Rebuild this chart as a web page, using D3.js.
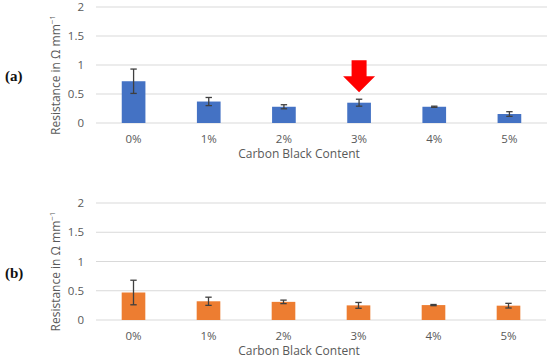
<!DOCTYPE html>
<html>
<head>
<meta charset="utf-8">
<script src="https://cdn.jsdelivr.net/npm/d3@7"></script>
<style>
  html, body { margin: 0; padding: 0; background: #fff; }
  svg { display: block; }
  text { font-family: "Open Sans", "Liberation Sans", sans-serif; }
  text.panel-label { font-family: "Liberation Serif", "DejaVu Serif", serif; }
</style>
</head>
<body>
<svg id="chart" width="550" height="359"></svg>
<script>
// ---- data ----
const categories = ["0%", "1%", "2%", "3%", "4%", "5%"];
const valuesA = [0.72, 0.37, 0.28, 0.35, 0.28, 0.155];
const errorsA = [0.21, 0.07, 0.035, 0.06, 0.01, 0.04];
const valuesB = [0.47, 0.32, 0.31, 0.25, 0.255, 0.245];
const errorsB = [0.21, 0.07, 0.03, 0.05, 0.01, 0.04];
const yTicks = [0, 0.5, 1, 1.5, 2];
const highlightCategory = "3%";
const xTitle = "Carbon Black Content";
const panelLabels = ["(a)", "(b)"];

const svg = d3.select("#chart");
const textColor = "#595959";

function drawPanel(cfg) {
  const { values, errors, color, top, bottom, left, right, label, arrow } = cfg;
  const g = svg.append("g");
  const x = d3.scaleBand().domain(categories).range([left, right])
    .paddingInner(0.685).paddingOuter(0.3425);
  const y = d3.scaleLinear().domain([0, 2]).range([bottom, top]);

  // gridlines
  g.selectAll(".grid").data(yTicks).join("line")
    .attr("x1", left).attr("x2", right)
    .attr("y1", d => y(d)).attr("y2", d => y(d))
    .attr("stroke", "#d9d9d9").attr("stroke-width", 1);

  // y tick labels
  g.selectAll(".ytick").data(yTicks).join("text")
    .attr("x", left - 12).attr("y", d => y(d) + 4)
    .attr("text-anchor", "end")
    .attr("font-size", 11.5).attr("fill", textColor)
    .text(d => d3.format("")(d));

  // bars
  const data = categories.map((c, i) => ({ c, v: values[i], e: errors[i] }));
  g.selectAll(".bar").data(data).join("rect")
    .attr("x", d => x(d.c)).attr("width", x.bandwidth())
    .attr("y", d => y(d.v)).attr("height", d => y(0) - y(d.v))
    .attr("fill", color);

  // error bars
  const cap = 3.2;
  const eb = g.selectAll(".eb").data(data).join("g")
    .attr("stroke", "#3f3f3f").attr("stroke-width", 1.3).attr("fill", "none");
  eb.append("line")
    .attr("x1", d => x(d.c) + x.bandwidth() / 2).attr("x2", d => x(d.c) + x.bandwidth() / 2)
    .attr("y1", d => y(d.v + d.e)).attr("y2", d => y(d.v - d.e));
  eb.append("line")
    .attr("x1", d => x(d.c) + x.bandwidth() / 2 - cap).attr("x2", d => x(d.c) + x.bandwidth() / 2 + cap)
    .attr("y1", d => y(d.v + d.e)).attr("y2", d => y(d.v + d.e));
  eb.append("line")
    .attr("x1", d => x(d.c) + x.bandwidth() / 2 - cap).attr("x2", d => x(d.c) + x.bandwidth() / 2 + cap)
    .attr("y1", d => y(d.v - d.e)).attr("y2", d => y(d.v - d.e));

  // x tick labels
  g.selectAll(".xtick").data(categories).join("text")
    .attr("x", d => x(d) + x.bandwidth() / 2).attr("y", bottom + 20)
    .attr("text-anchor", "middle")
    .attr("font-size", 11.5).attr("fill", textColor)
    .text(d => d);

  // x title
  g.append("text")
    .attr("x", 299).attr("y", bottom + 35)
    .attr("text-anchor", "middle")
    .attr("font-size", 12).attr("fill", textColor)
    .text(xTitle);

  // y title
  const yc = (top + bottom) / 2 + 10;
  const yt = g.append("text")
    .attr("transform", `translate(60,${yc}) rotate(-90)`)
    .attr("text-anchor", "middle")
    .attr("font-size", 12).attr("fill", textColor);
  yt.append("tspan").text("Resistance in Ω mm");
  yt.append("tspan").attr("font-size", 8).attr("dy", -5).text("−1");

  // panel label
  g.append("text").attr("class", "panel-label")
    .attr("x", 5).attr("y", (top + bottom) / 2 + 16)
    .attr("font-weight", "bold").attr("font-size", 15).attr("fill", "#111")
    .text(label);

  // highlight arrow
  if (arrow) {
    const i = categories.indexOf(highlightCategory);
    const cx = x(highlightCategory) + x.bandwidth() / 2;
    const tip = y(values[i] + errors[i]) - 7;
    const headTop = tip - 16, shaftTop = tip - 32;
    const pts = [
      [cx - 7.5, shaftTop], [cx + 7.5, shaftTop], [cx + 7.5, headTop],
      [cx + 16, headTop], [cx, tip], [cx - 16, headTop], [cx - 7.5, headTop]
    ];
    g.append("polygon").attr("points", pts.map(p => p.join(",")).join(" "))
      .attr("fill", "#ff0000");
  }
}

drawPanel({ values: valuesA, errors: errorsA, color: "#4472c4",
  top: 7, bottom: 123, left: 96, right: 547, label: panelLabels[0], arrow: true });
drawPanel({ values: valuesB, errors: errorsB, color: "#ed7d31",
  top: 203, bottom: 320, left: 96, right: 546, label: panelLabels[1], arrow: false });
</script>
</body>
</html>
